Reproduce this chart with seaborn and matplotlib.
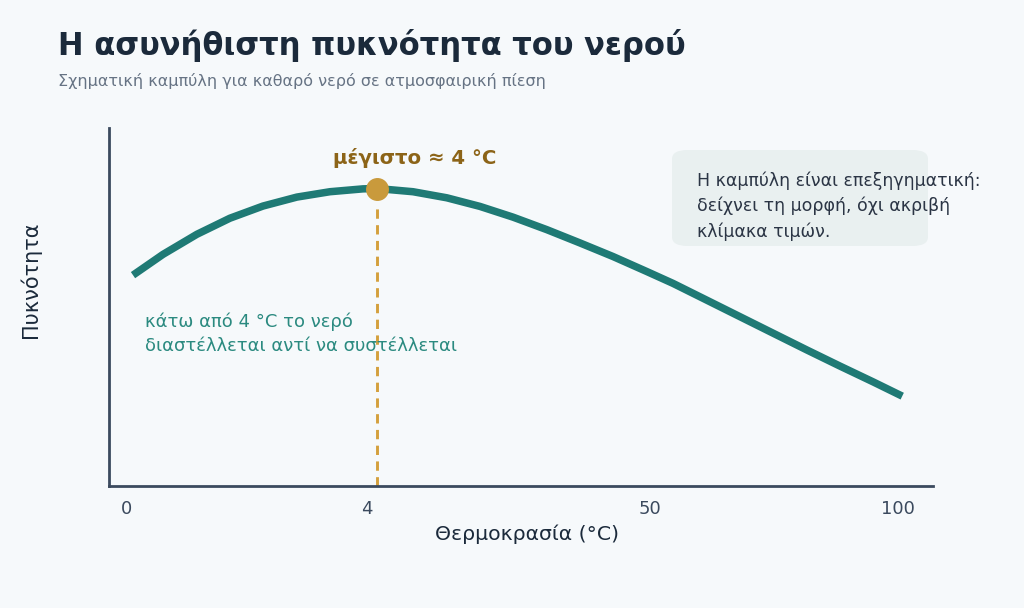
import matplotlib
matplotlib.use("Agg")
import matplotlib.pyplot as plt
from matplotlib.patches import FancyBboxPatch
import seaborn as sns
import pandas as pd

# schematic curve (x: 0..100 position, y: relative density)
curve_x = [0.0, 3.9, 8.3, 12.6, 16.9, 21.3, 25.6, 29.9, 31.7, 36.4, 40.8, 45.1, 49.4,
           53.8, 58.1, 62.4, 66.8, 70.2, 74.6, 78.9, 83.2, 87.6, 91.9, 96.2, 100.0]
curve_y = [58.9, 64.7, 70.3, 74.8, 78.2, 80.7, 82.2, 83.0, 83.1, 82.2, 80.5, 78.1, 75.1,
           71.6, 67.9, 64.1, 59.9, 56.6, 51.9, 47.3, 42.7, 38.0, 33.5, 29.1, 25.1]
peak_x = 31.7
peak_y = 83.1
tick_labels = ["0", "4", "50", "100"]

title = "Η ασυνήθιστη πυκνότητα του νερού"
subtitle = "Σχηματική καμπύλη για καθαρό νερό σε ατμοσφαιρική πίεση"
peak_label = "μέγιστο ≈ 4 °C"
note_left = "κάτω από 4 °C το νερό\nδιαστέλλεται αντί να συστέλλεται"
note_box = "Η καμπύλη είναι επεξηγηματική:\nδείχνει τη μορφή, όχι ακριβή\nκλίμακα τιμών."

bg = "#f6f9fb"
teal = "#1f7a75"
gold = "#c99a3c"
dark = "#1b2a3b"
slate = "#3b4a5e"

sns.set_theme(style="white")
plt.rcParams["font.family"] = ["DejaVu Sans"]

fig = plt.figure(figsize=(10.24, 6.08), dpi=100, facecolor=bg)
ax = fig.add_axes([109 / 1024, 1 - 486 / 608, (933 - 109) / 1024, (486 - 128) / 608])
ax.set_facecolor(bg)

df = pd.DataFrame({"pos": curve_x, "density": curve_y})
sns.lineplot(data=df, x="pos", y="density", ax=ax, color=teal, linewidth=5.4,
             solid_capstyle="butt", solid_joinstyle="round", zorder=3)

# dashed guide from the maximum down to the axis
ax.plot([peak_x, peak_x], [0, peak_y - 4], color="#d4a03c", linewidth=2.1,
        linestyle=(0, (3.2, 2.2)), zorder=2)
ax.plot([peak_x], [peak_y], "o", color=gold, markersize=15.5, zorder=4)
ax.text(peak_x + 4.9, peak_y + 8.6, peak_label, ha="center", va="center",
        fontsize=14.2, fontweight="bold", color="#8c6418")

ax.text(1.5, 42.5, note_left, ha="left", va="center", fontsize=13,
        color="#2b8a80", linespacing=1.4)

ax.set_xlim(-3.12, 104.0)
ax.set_ylim(0, 100)
ax.set_xticks([-0.8, 30.4, 67.2, 99.5])
ax.set_xticklabels(tick_labels)
ax.set_yticks([])
ax.tick_params(axis="x", length=0, pad=10, labelsize=13, labelcolor=slate)
ax.set_xlabel("Θερμοκρασία (°C)", fontsize=14.7, color=dark, va="center")
ax.xaxis.set_label_coords(0.507, -0.134)
ax.set_ylabel("Πυκνότητα", fontsize=15, color=dark, va="center")
ax.yaxis.set_label_coords(-0.0959, 0.575)
for side in ["top", "right"]:
    ax.spines[side].set_visible(False)
for side in ["left", "bottom"]:
    ax.spines[side].set_color(slate)
    ax.spines[side].set_linewidth(2)

fig.text(58 / 1024, 1 - 45 / 608, title, fontsize=22.1, fontweight="bold",
         color=dark, ha="left", va="center")
fig.text(58 / 1024, 1 - 81 / 608, subtitle, fontsize=11.5, color="#667384",
         ha="left", va="center")

box = FancyBboxPatch((672 / 1024, 1 - 246 / 608), (928 - 672) / 1024, (246 - 150) / 608,
                     boxstyle="round,pad=0,rounding_size=0.015", transform=fig.transFigure,
                     facecolor="#e9f0f0", edgecolor="none", zorder=1)
fig.patches.append(box)
fig.text(697 / 1024, 1 - 206 / 608, note_box, fontsize=12.5, color="#2b3545",
         ha="left", va="center", linespacing=1.47, zorder=5)

fig.savefig("out.png", dpi=100, facecolor=bg)
